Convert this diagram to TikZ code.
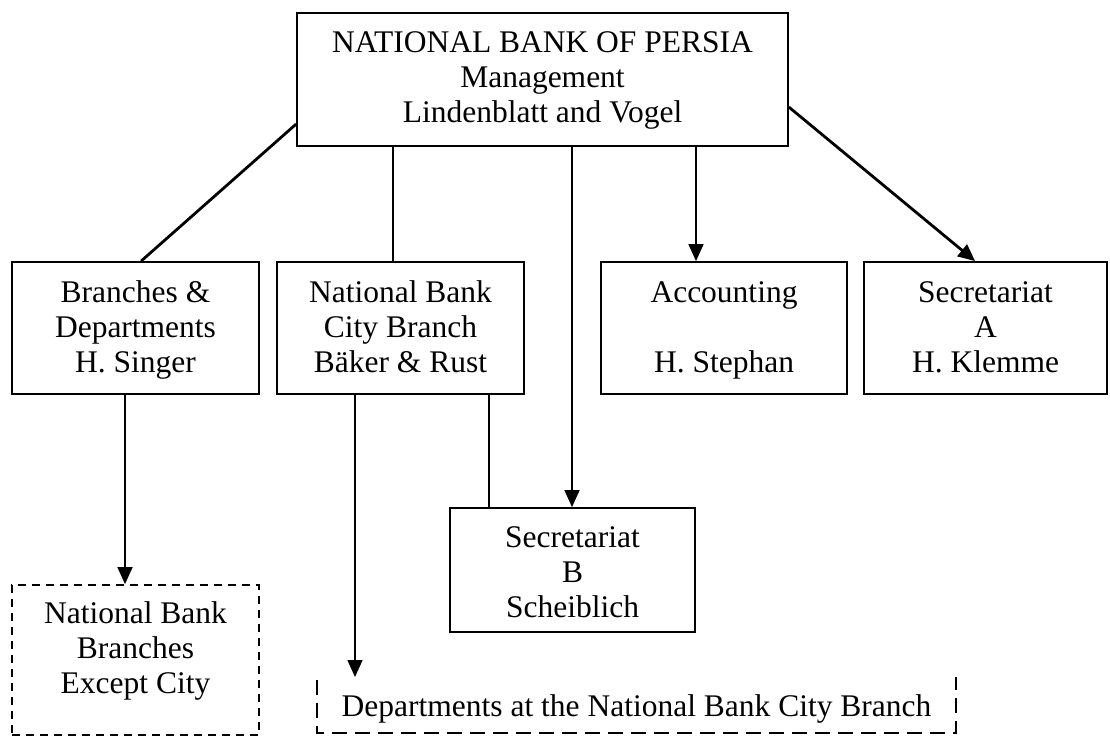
\documentclass[tikz,border=0pt]{standalone}
\usepackage{fontspec}
\setmainfont{Liberation Serif}
\usetikzlibrary{arrows.meta,calc}
\newcommand{\lns}[2][0pt]{\raisebox{#1}[\height][\depth]{\begin{tabular}{@{}c@{}}#2\end{tabular}}}
\begin{document}
\begin{tikzpicture}[x=1pt,y=-1pt,
  every node/.style={font=\fontsize{31.5}{35}\selectfont, align=center, inner sep=0pt},
  box/.style={draw, line width=1.8pt, minimum width=#1, minimum height=132pt},
  conn/.style={line width=1.6pt},
  diag/.style={line width=2.8pt},
  arr/.style={line width=1.6pt, -{Triangle[length=17pt,width=15pt]}},
  darr/.style={line width=2.8pt, -{Triangle[length=17pt,width=15pt]}},
  shortdash/.style={line width=1.8pt, dash pattern=on 8pt off 6pt},
  longdash/.style={line width=1.8pt, dash pattern=on 15pt off 8pt}]
\useasboundingbox (0,0) rectangle (1110,737);
\node[box=491pt, minimum height=133pt] (top) at (542.5,79.5)
  {\lns[-1pt]{NATIONAL BANK OF PERSIA\\Management\\Lindenblatt and Vogel}};
\node[box=247pt] (br) at (135.5,328) {\lns[-2pt]{Branches \&\\Departments\\H. Singer}};
\node[box=247pt] (city) at (400.5,328) {\lns[-2pt]{National Bank\\City Branch\\Bäker \& Rust}};
\node[box=246pt] (acc) at (724,328) {\lns[-2pt]{Accounting\\ \\H. Stephan}};
\node[box=243pt] (seca) at (985.5,328) {\lns[-2pt]{Secretariat\\A\\H. Klemme}};
\node[box=245pt, minimum height=124pt] (secb) at (572.5,570) {\lns[-5pt]{Secretariat\\B\\Scheiblich}};
\node[shortdash, draw, minimum width=247pt, minimum height=150pt] (nbb) at (135.5,660)
  {\lns[9pt]{National Bank\\Branches\\Except City}};
\node[minimum width=639pt, minimum height=56pt] (dept) at (636.5,705)
  {\lns[-4pt]{Departments at the National Bank City Branch}};
\draw[longdash] ($(dept.north west)+(0,3)$) -- (dept.south west) -- (dept.south east) -- (dept.north east);
% x positions of vertical connectors
\coordinate (xbr) at (125,0);
\coordinate (xcity) at (393,0);
\coordinate (xsecb) at (572,0);
\coordinate (xacc) at (696,0);
\coordinate (xcl) at (355,0);
\coordinate (xcr) at (489,0);
\coordinate (deptarr) at (355,677);
% connectors
\draw[diag] ($(top.north west)+(0,112)$) -- ($(br.north west)+(130,0)$);
\draw[darr] ($(top.north east)+(0,95)$) -- ($(seca.north west)+(112,0)$);
\draw[conn] (top.south -| xcity) -- (city.north -| xcity);
\draw[arr] (top.south -| xsecb) -- (secb.north -| xsecb);
\draw[arr] (top.south -| xacc) -- (acc.north -| xacc);
\draw[arr] (br.south -| xbr) -- (nbb.north -| xbr);
\draw[arr] (city.south -| xcl) -- (deptarr);
\draw[conn] (city.south -| xcr) -- (secb.north -| xcr);
\end{tikzpicture}
\end{document}
